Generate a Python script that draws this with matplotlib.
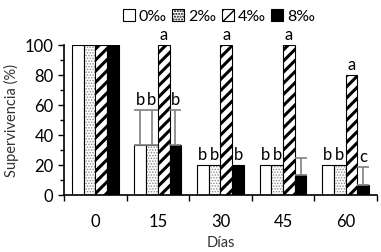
import numpy as np
import matplotlib.pyplot as plt
from matplotlib.ticker import MultipleLocator

plt.rcParams['font.family'] = ['Lato', 'DejaVu Sans']

dias = ['0', '15', '30', '45', '60']
series = ['0‰', '2‰', '4‰', '8‰']

# survival (%) per salinity, one value per day
surv_0 = [100, 33.3, 20, 20, 20]
surv_2 = [100, 33.3, 20, 20, 20]
surv_4 = [100, 100, 100, 100, 80]
surv_8 = [100, 33.3, 20, 13.3, 6.7]

# upper error (sd), 0 where none is drawn
err_0 = [0, 23.5, 0, 0, 0]
err_2 = [0, 23.5, 0, 0, 0]
err_4 = [0, 0, 0, 0, 0]
err_8 = [0, 23.5, 0, 11.2, 11.8]

# significance letters
let_0 = ['', 'b', 'b', 'b', 'b']
let_2 = ['', 'b', 'b', 'b', 'b']
let_4 = ['', 'a', 'a', 'a', 'a']
let_8 = ['', 'b', 'b', '', 'c']

values = [surv_0, surv_2, surv_4, surv_8]
errors = [err_0, err_2, err_4, err_8]
letters = [let_0, let_2, let_4, let_8]
faces = ['white', 'white', 'white', 'black']
hatches = [None, '......', '///', None]
hatch_cols = ['black', '#8a8a8a', 'black', 'black']
hatch_lw = [1.0, 0.7, 2.2, 1.0]

fig = plt.figure(figsize=(3.81, 2.52), dpi=100)
ax = fig.add_axes([0.168, 0.226, 0.821, 0.595])

x = np.arange(len(dias))
w = 0.1875
handles = []
for i in range(4):
    pos = x + (i - 1.5) * w
    plt.rcParams['hatch.linewidth'] = hatch_lw[i]
    ax.bar(pos, values[i], width=w, color=faces[i], edgecolor=hatch_cols[i],
           linewidth=0, hatch=hatches[i])
    ax.bar(pos, values[i], width=w, fill=False, edgecolor='black',
           linewidth=0.8)
    err = np.array(errors[i])
    m = err > 0
    if m.any():
        ax.errorbar(pos[m], np.array(values[i])[m],
                    yerr=[np.zeros(m.sum()), err[m]], fmt='none',
                    ecolor='#808080', elinewidth=1.2, capsize=4, capthick=1.2)
    for j, lab in enumerate(letters[i]):
        if lab:
            top = values[i][j] + errors[i][j]
            ax.text(pos[j], top + 1.5, lab, ha='center', va='bottom',
                    fontsize=12)
    # legend proxy
    hp = plt.Rectangle((0, 0), 1, 1, facecolor=faces[i], edgecolor='black',
                       linewidth=0.8, hatch=hatches[i])
    handles.append(hp)

ax.set_xlim(-0.5, len(dias) - 0.5)
ax.set_ylim(0, 100)
ax.set_xticks(x)
ax.set_xticklabels(dias, fontsize=12)
ax.set_xticks(np.arange(-0.5, len(dias)), minor=True)
ax.tick_params(axis='x', which='major', length=0, pad=14)
ax.tick_params(axis='x', which='minor', length=4, width=1)
ax.yaxis.set_major_locator(MultipleLocator(20))
ax.yaxis.set_minor_locator(MultipleLocator(10))
ax.tick_params(axis='y', which='major', length=4, width=1, labelsize=12)
ax.tick_params(axis='y', which='minor', length=3, width=1)
for s in ['top', 'right']:
    ax.spines[s].set_visible(False)
for s in ['left', 'bottom']:
    ax.spines[s].set_linewidth(1.2)

ax.set_ylabel('Supervivencia (%)', fontsize=10.5, color='#333333', labelpad=4)
ax.set_xlabel('Días', fontsize=10.5, color='#333333', labelpad=4)

plt.rcParams['hatch.linewidth'] = 1.0
fig.legend(handles, series, loc='upper center', bbox_to_anchor=(0.575, 1.02),
           ncol=4, frameon=False, fontsize=11.5, handlelength=0.75,
           handleheight=0.75, handletextpad=0.25, columnspacing=0.35)

fig.savefig('out.png', dpi=100)
